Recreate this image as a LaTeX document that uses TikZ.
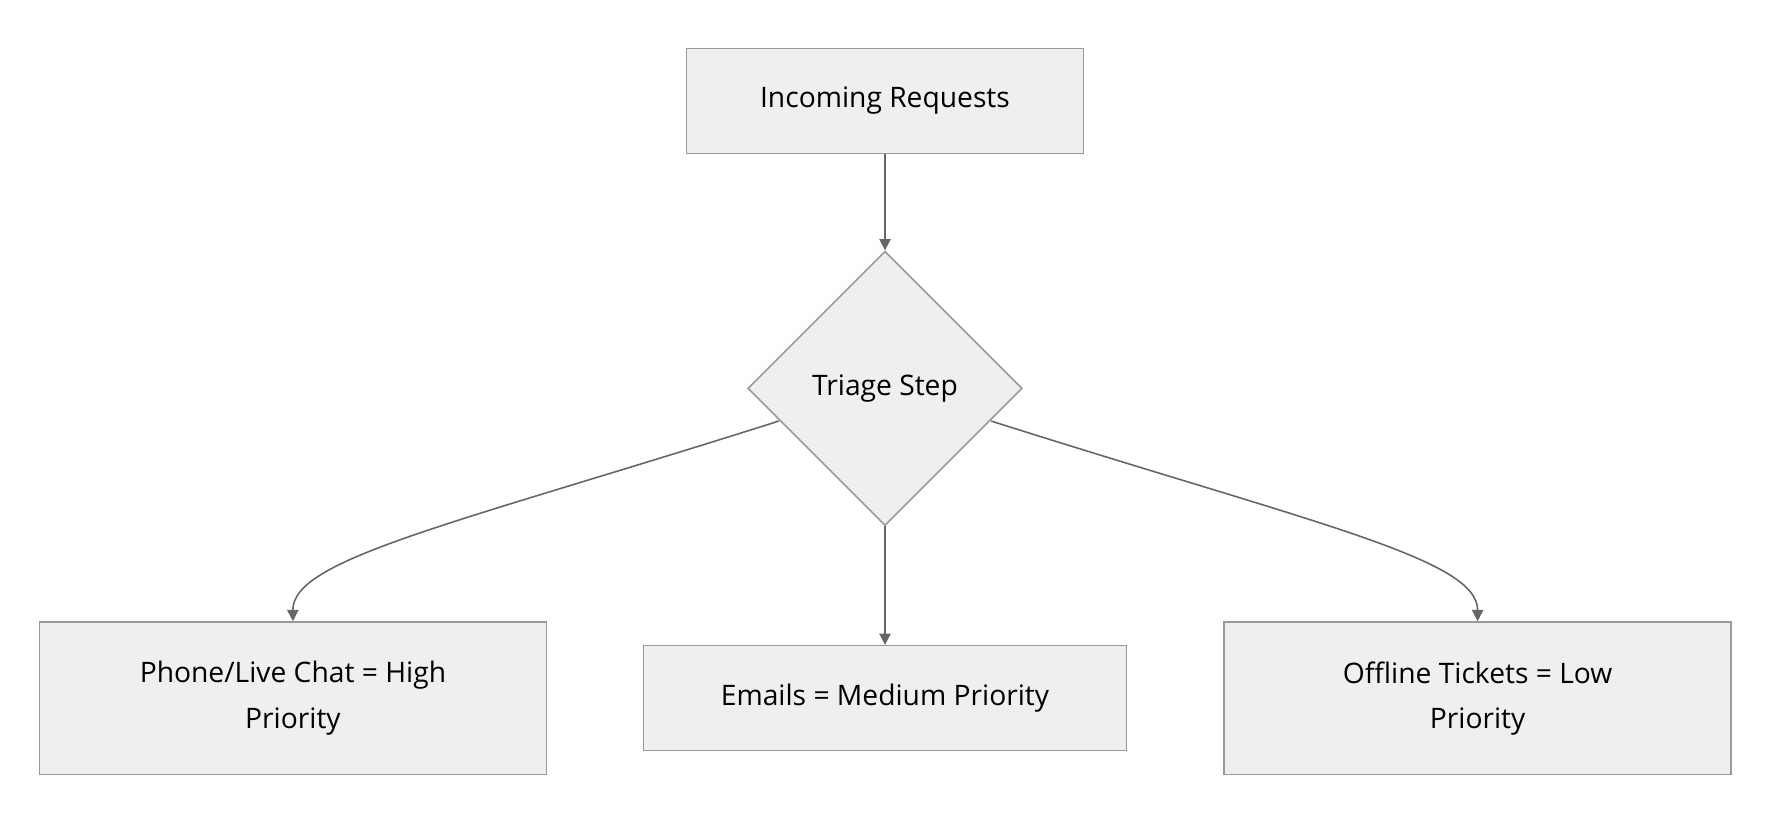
\documentclass[tikz,border=0pt]{standalone}
\usepackage{fontspec}
\setmainfont{Open Sans}
\usetikzlibrary{shapes.geometric,arrows.meta}
\definecolor{boxfill}{HTML}{EFEFEF}
\definecolor{boxline}{HTML}{999999}
\definecolor{arrowline}{HTML}{666666}
\tikzset{
  box/.style={draw=boxline,fill=boxfill,line width=1.4pt,align=center,
    font=\fontsize{25}{40}\selectfont},
  flow/.style={draw=arrowline,line width=1.4pt,-{Triangle[length=10pt,width=10pt]}}
}
\begin{document}
\begin{tikzpicture}[x=1pt,y=-1pt]
\useasboundingbox (0,0) rectangle (1568,730);
\node[box,minimum width=352pt,minimum height=93pt] (incoming) at (784,89.5) {Incoming Requests};
\node[box,diamond,minimum width=243pt,minimum height=243pt,inner sep=0pt] (triage) at (784,344) {Triage Step};
\node[box,minimum width=449pt,minimum height=135pt] (phone) at (259.5,618.5) {Phone/Live Chat = High\\Priority};
\node[box,minimum width=428pt,minimum height=93pt] (emails) at (784,618.5) {Emails = Medium Priority};
\node[box,minimum width=449pt,minimum height=135pt] (offline) at (1309,618.5) {Offline Tickets = Low\\Priority};
\coordinate (tl) at (690,373);
\coordinate (tr) at (878,373);
\draw[flow] (incoming) -- (triage);
\draw[flow] (triage) -- (emails);
\draw[flow] (tl) .. controls (400,465) and (259,495) .. (phone.north);
\draw[flow] (tr) .. controls (1168,465) and (1309,495) .. (offline.north);
\end{tikzpicture}
\end{document}
